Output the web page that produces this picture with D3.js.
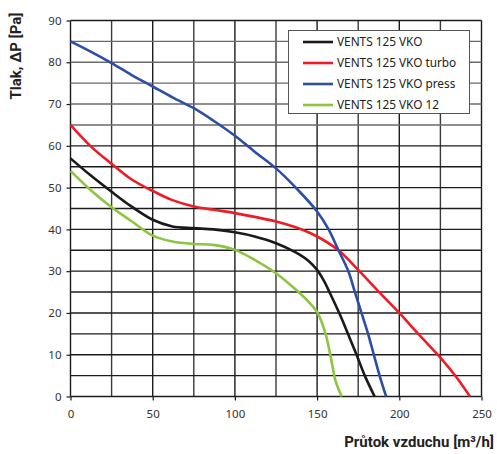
<!DOCTYPE html>
<html>
<head>
<meta charset="utf-8">
<script src="https://cdn.jsdelivr.net/npm/d3@7"></script>
<style>
  body { margin: 0; background: #fff; }
  svg { display: block; }
  .tick-label { font-family: "Noto Sans", sans-serif; font-size: 11.5px; fill: #333; }
  .axis-title { font-family: Roboto, "Noto Sans", sans-serif; font-size: 15px; font-weight: bold; fill: #222; }
  .legend-text { font-family: "Noto Sans", sans-serif; font-size: 11.8px; fill: #222; }
</style>
</head>
<body>
<svg id="chart" width="497" height="454"></svg>
<script>
// fan curves: [flow m3/h, pressure Pa]
const seriesNames = ["VENTS 125 VKO", "VENTS 125 VKO turbo", "VENTS 125 VKO press", "VENTS 125 VKO 12"];
const seriesColors = ["#1a1a1a", "#ee1c25", "#2c4ea6", "#8cc63f"];

const vko = [[0,57],[12,53],[25,49],[37,45.5],[50,42.3],[62,40.7],[75,40.3],[87,40],[100,39.3],[112,38.3],[125,36.7],[137,34.5],[145,32.4],[150,30.3],[154,27.8],[158,24.6],[164,19.5],[169,14.8],[174,10],[179,5],[185,0]];
const vkoTurbo = [[0,65],[12,60],[25,55.7],[37,52],[50,49.2],[62,47],[75,45.5],[87,44.7],[100,43.9],[112,43],[125,41.9],[137,40.5],[150,38.3],[163,35],[175,30.3],[187,25.3],[200,20],[212,14.8],[225,9.3],[235,4.5],[243,0]];
const vkoPress = [[0,85],[12,82.6],[25,79.8],[37,77],[50,74.2],[62,71.6],[75,69],[87,66],[100,62.4],[112,58.6],[125,54.6],[137,50],[150,44.3],[157,40],[163,35],[169,30],[173,25],[177,20],[181,15],[184.5,10],[188,5],[192,0]];
const vko12 = [[0,54],[12,49.5],[25,45.3],[37,42],[50,38.5],[62,37.1],[75,36.5],[87,36.3],[100,35.1],[112,32.7],[125,29.5],[137,25.6],[145,22.6],[150,20.2],[153,17.6],[155.5,14.5],[157.5,11],[159.5,7],[161,4],[163,1.8],[165,0]];

const xTicks = [0, 50, 100, 150, 200, 250];
const yTicks = [0, 10, 20, 30, 40, 50, 60, 70, 80, 90];
const xGrid = d3.range(0, 251, 25);
const yGrid = d3.range(0, 91, 5);

const allSeries = [vko, vkoTurbo, vkoPress, vko12];

const svg = d3.select("#chart");
const plot = { left: 70.5, right: 481.5, top: 20.5, bottom: 396.5 };

const x = d3.scaleLinear().domain([0, 250]).range([plot.left, plot.right]);
const y = d3.scaleLinear().domain([0, 90]).range([plot.bottom, plot.top]);

// grid
const grid = svg.append("g");
grid.selectAll(".vg").data(xGrid).join("line")
    .attr("x1", d => x(d)).attr("x2", d => x(d))
    .attr("y1", plot.top).attr("y2", plot.bottom)
    .attr("stroke", d => d % 50 === 0 || d === 250 ? "#1c1c1c" : "#3a3a3a")
    .attr("stroke-width", 1.4);
grid.selectAll(".hg").data(yGrid).join("line")
    .attr("x1", plot.left).attr("x2", plot.right)
    .attr("y1", d => y(d)).attr("y2", d => y(d))
    .attr("stroke", d => (d >= 65 && d <= 85) ? "#6a6a6a" : "#1c1c1c")
    .attr("stroke-width", 1.4);

// axes
const xAxis = d3.axisBottom(x).tickValues(xTicks).tickSize(4).tickPadding(9);
const yAxis = d3.axisLeft(y).tickValues(yTicks).tickSize(4).tickPadding(5);

const gx = svg.append("g").attr("transform", `translate(0,${plot.bottom})`).call(xAxis);
const gy = svg.append("g").attr("transform", `translate(${plot.left},0)`).call(yAxis);
[gx, gy].forEach(g => {
    g.select(".domain").remove();
    g.selectAll(".tick line").attr("stroke", "#1c1c1c").attr("stroke-width", 1.2);
    g.selectAll(".tick text").attr("class", "tick-label").attr("fill", null);
});

// curves
const line = d3.line()
    .x(d => x(d[0]))
    .y(d => y(d[1]))
    .curve(d3.curveCatmullRom.alpha(0.5));

svg.append("g").selectAll("path").data(allSeries).join("path")
    .attr("d", line)
    .attr("fill", "none")
    .attr("stroke", (d, i) => seriesColors[i])
    .attr("stroke-width", 2.6)
    .attr("stroke-linejoin", "round")
    .attr("stroke-linecap", "butt");

// legend
const legend = svg.append("g");
legend.append("rect")
    .attr("x", 288.5).attr("y", 30.5)
    .attr("width", 181).attr("height", 83)
    .attr("fill", "#fff").attr("stroke", "#555").attr("stroke-width", 1);

const rows = legend.selectAll(".row").data(seriesNames).join("g")
    .attr("transform", (d, i) => `translate(0,${42 + i * 21})`);
rows.append("line")
    .attr("x1", 303).attr("x2", 333)
    .attr("stroke", (d, i) => seriesColors[i])
    .attr("stroke-width", 2.6);
rows.append("text")
    .attr("class", "legend-text")
    .attr("x", 337).attr("dy", "0.35em")
    .text(d => d);

// axis titles
svg.append("text")
    .attr("class", "axis-title")
    .attr("x", 494).attr("y", 447)
    .attr("text-anchor", "end")
    .text("Průtok vzduchu [m³/h]");

svg.append("text")
    .attr("class", "axis-title")
    .attr("transform", "translate(21,56) rotate(-90)")
    .attr("text-anchor", "middle")
    .text("Tlak, ΔP [Pa]");
</script>
</body>
</html>
